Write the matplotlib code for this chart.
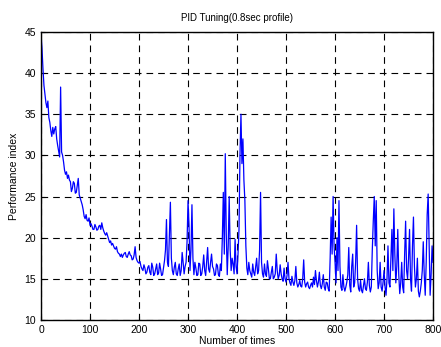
import numpy as np
import matplotlib
matplotlib.use('Agg')
import matplotlib.pyplot as plt

plt.rcParams['font.family'] = ['Liberation Sans', 'DejaVu Sans']

step = 2
perf = [
    # 0 - 98
    44.8, 43.0, 40.5, 38.5, 37.5, 36.4, 35.8, 36.6, 34.6, 34.0,
    33.0, 32.3, 33.4, 32.6, 33.2, 33.5, 32.0, 31.2, 30.5, 29.8,
    38.3, 30.4, 30.0, 29.2, 28.2, 27.7, 28.0, 27.2, 27.6, 27.0,
    26.8, 25.6, 26.0, 26.8, 26.6, 25.4, 25.5, 26.4, 27.2, 25.2,
    24.8, 24.4, 24.0, 23.4, 22.6, 22.3, 22.8, 22.1, 22.0, 22.4,
    # 100 - 198
    21.5, 21.7, 21.4, 21.0, 21.0, 21.6, 21.3, 20.9, 21.0, 21.4,
    21.5, 21.0, 21.8, 21.2, 20.8, 20.5, 20.3, 20.6, 20.2, 19.8,
    19.4, 19.6, 19.1, 19.3, 19.0, 18.7, 18.6, 18.9, 18.3, 18.1,
    18.0, 17.7, 18.0, 17.6, 17.9, 18.1, 18.2, 17.7, 17.6, 18.0,
    18.3, 17.9, 17.8, 17.3, 17.4, 17.9, 18.9, 17.6, 17.2, 17.0,
    # 200 - 298
    16.9, 17.1, 16.5, 16.2, 16.0, 16.7, 16.3, 15.6, 15.8, 16.4,
    16.6, 15.8, 15.5, 16.9, 16.4, 15.4, 15.6, 16.2, 16.8, 15.5,
    15.7, 16.9, 16.2, 15.4, 15.5, 16.4, 17.2, 18.5, 22.2, 17.0,
    16.5, 20.5, 24.3, 17.5, 16.0, 15.5, 16.4, 17.0, 15.6, 15.4,
    16.2, 16.8, 15.4, 16.0, 18.2, 17.0, 15.6, 16.5, 17.0, 19.5,
    # 300 - 398
    24.5, 21.5, 16.0, 18.5, 24.0, 17.5, 15.5, 17.0, 16.3, 15.4,
    15.5, 16.9, 16.8, 15.4, 15.6, 16.5, 17.9, 16.0, 15.4, 17.2,
    18.8, 16.2, 15.8, 17.0, 18.0, 16.5, 16.2, 15.4, 15.5, 16.8,
    16.6, 15.5, 15.3, 16.8, 16.0, 20.0, 25.5, 18.0, 30.2, 20.5,
    15.5, 19.0, 25.0, 18.5, 16.0, 17.5, 16.8, 15.6, 19.8, 16.5,
    # 400 - 498
    15.6, 18.0, 21.0, 30.0, 35.0, 29.0, 32.0, 27.0, 24.5, 19.0,
    16.3, 15.5, 17.0, 16.0, 15.6, 15.2, 16.8, 15.8, 15.4, 16.4,
    17.5, 15.6, 16.0, 18.5, 25.5, 17.0, 15.6, 15.2, 16.8, 15.6,
    15.3, 17.2, 16.2, 15.0, 15.0, 15.8, 16.5, 15.0, 15.2, 15.6,
    18.0, 16.0, 15.0, 15.4, 16.7, 15.6, 15.0, 14.7, 16.3, 15.0,
    # 500 - 598
    14.6, 15.4, 17.0, 15.0, 14.5, 14.2, 15.3, 14.6, 14.2, 14.8,
    16.5, 14.5, 14.0, 14.3, 14.8, 14.1, 14.0, 15.0, 17.3, 14.6,
    14.0, 14.4, 14.6, 14.0, 13.8, 14.2, 14.5, 14.0, 15.2, 14.3,
    16.0, 14.8, 14.0, 14.6, 15.8, 14.2, 13.8, 14.4, 15.5, 14.0,
    13.6, 14.6, 14.5, 13.8, 13.5, 17.5, 22.5, 18.0, 25.0, 19.0,
    # 600 - 698
    17.0, 14.5, 20.0, 16.0, 24.5, 16.5, 14.0, 13.6, 15.5, 14.0,
    13.5, 14.0, 14.6, 15.5, 18.8, 14.2, 13.4, 16.5, 18.0, 14.0,
    14.5, 17.0, 21.5, 15.0, 13.8, 13.5, 14.8, 13.6, 13.3, 14.2,
    15.0, 13.8, 13.6, 14.6, 17.0, 14.2, 13.4, 14.0, 18.5, 22.0,
    25.0, 19.0, 24.5, 16.0, 13.8, 14.5, 17.0, 14.0, 13.5, 14.6,
    # 700 - 800
    16.0, 14.0, 13.0, 15.0, 19.0, 14.5, 14.0, 17.5, 21.0, 16.0,
    23.5, 18.0, 14.5, 16.5, 21.0, 15.5, 13.2, 14.5, 17.0, 14.0,
    13.3, 18.0, 22.0, 16.0, 15.0, 17.5, 21.0, 15.0, 13.5, 19.0,
    22.5, 16.5, 14.0, 15.0, 17.5, 13.5, 12.8, 13.5, 14.5, 16.0,
    19.5, 15.5, 13.0, 17.0, 22.8, 25.3, 19.0, 13.0, 15.5, 19.0,
    17.0,
]
runs = np.arange(len(perf)) * step

fig = plt.figure(figsize=(4.41, 3.47), dpi=100)
ax = fig.add_axes([0.093, 0.078, 0.889, 0.830])

ax.plot(runs, perf, color='#0000ff', lw=0.9)

ax.set_xlim(0, 800)
ax.set_ylim(10, 45)
ax.set_xticks(range(0, 801, 100))
ax.set_yticks(range(10, 46, 5))
ax.grid(True, color='black', linestyle=(0, (6, 4.5)), lw=0.8)
ax.tick_params(direction='in', labelsize=7.5, length=3)
for s in ax.spines.values():
    s.set_linewidth(1.0)

ax.set_title('PID Tuning(0.8sec profile)', fontsize=7, pad=8)
ax.set_xlabel('Number of times', fontsize=7.5, labelpad=1)
ax.set_ylabel('Performance index', fontsize=7.5, labelpad=4)

fig.savefig('out.png', dpi=100)
